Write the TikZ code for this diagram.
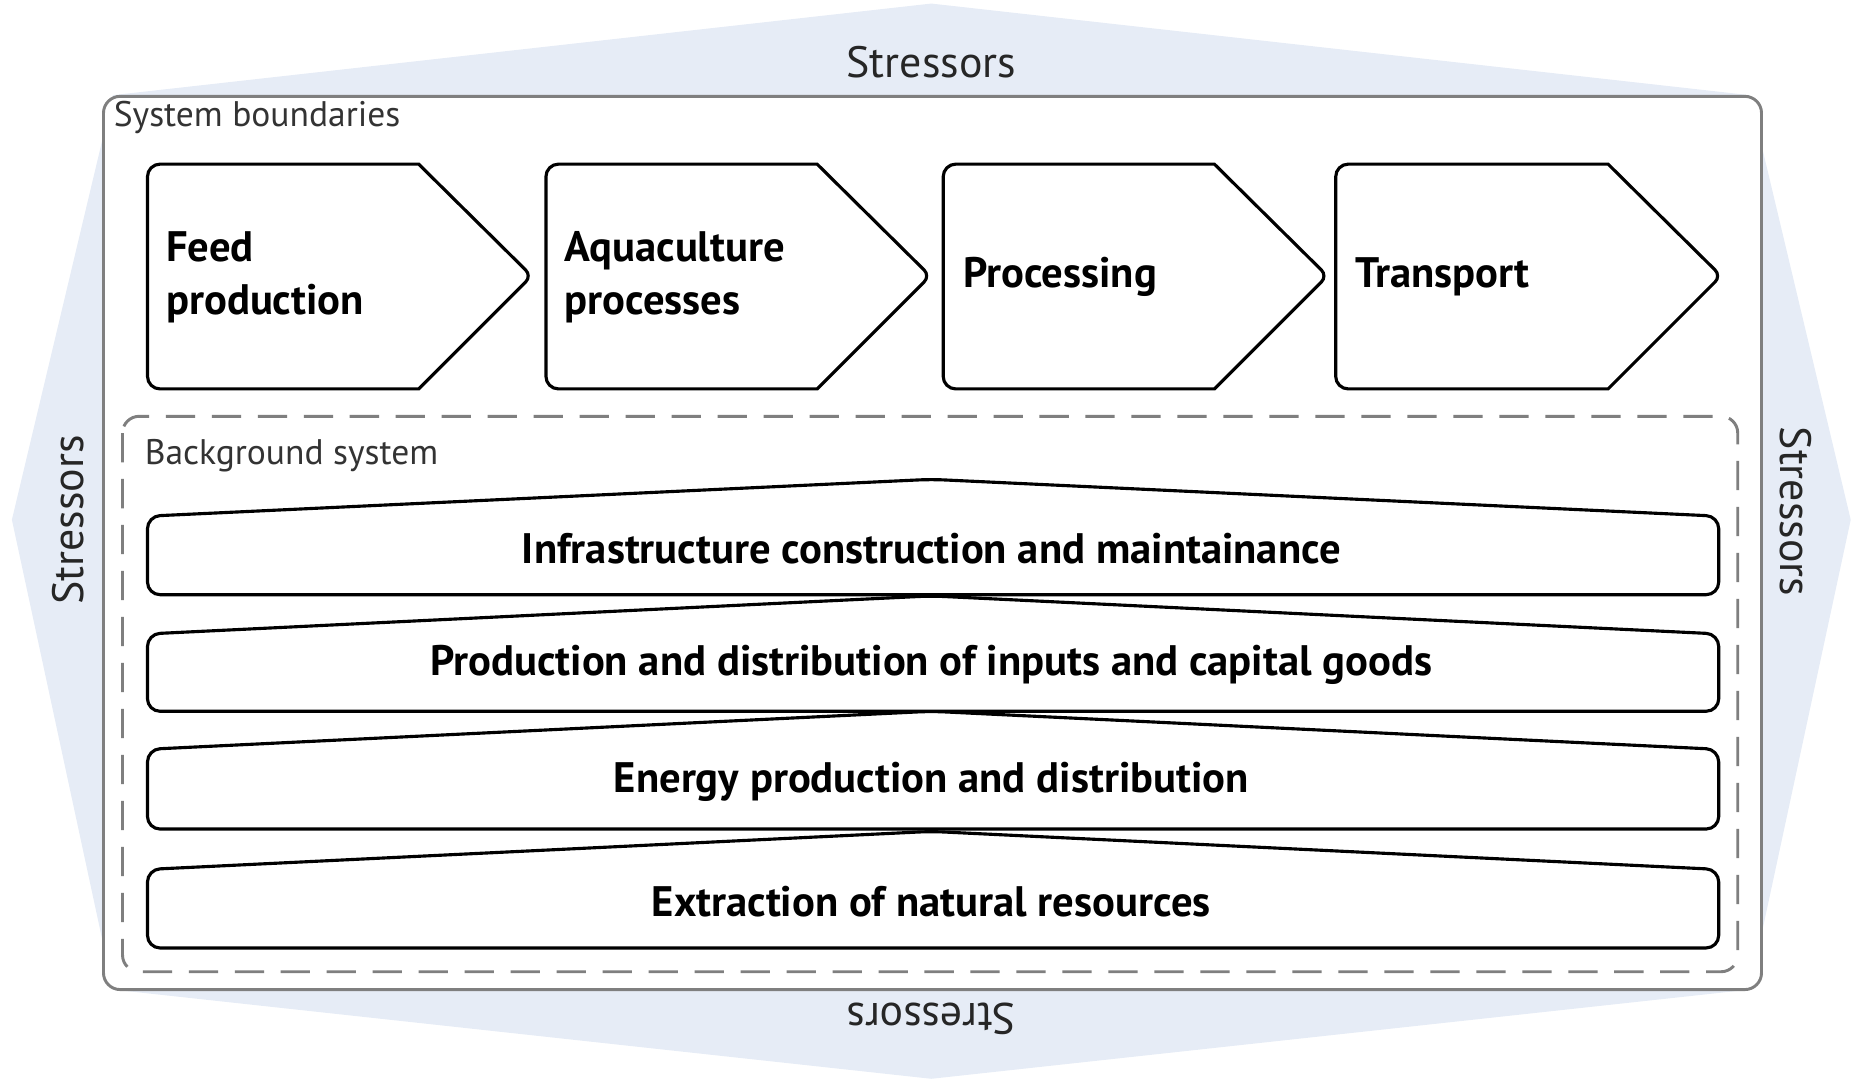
\documentclass[tikz,border=0pt]{standalone}
\usepackage{fontspec}
\setmainfont{PT Sans}
\definecolor{hexblue}{HTML}{E6ECF6}
\definecolor{boxgray}{HTML}{7F7F7F}
\tikzset{
  stage/.style={draw=black, line width=0.75pt},
  layer/.style={draw=black, line width=0.75pt, rounded corners=3pt},
  stagetext/.style={anchor=west, align=left, inner sep=0pt, font=\fontsize{10.2}{12.8}\selectfont\bfseries},
  layertext/.style={inner sep=0pt, font=\fontsize{10.2}{12}\selectfont\bfseries},
  stress/.style={inner sep=0pt, font=\fontsize{10.5}{12}\selectfont, text=black!85},
  boxlabel/.style={anchor=west, inner sep=0pt, font=\fontsize{8.5}{10}\selectfont, text=black!80},
}
\begin{document}
\begin{tikzpicture}[x=0.1mm, y=-0.1mm]
\useasboundingbox (0,0) rectangle (1568,909);
% stressors around the system
\fill[hexblue] (783,3) -- (1471,80) -- (1556,437) -- (1471,832) -- (783,907) -- (95,832) -- (10,437) -- (95,80) -- cycle;
\node[stress] (strN) at (783,52) {Stressors};
\node[stress, rotate=90] (strW) at (57,437) {Stressors};
\node[stress, rotate=-90] (strE) at (1510,430) {Stressors};
\node[stress, rotate=180] (strS) at (783,857) {Stressors};
% system boundaries
\draw[boxgray, line width=0.7pt, fill=white, rounded corners=4pt] (87,81) rectangle (1481,832);
\node[boxlabel] (sysb) at (95,99) {System boundaries};
% foreground stages
\draw[stage] (352,138) [rounded corners=2pt] -- (447,232) [sharp corners] -- (352,327) [rounded corners=3pt] -- (124,327) -- (124,138) [sharp corners] -- cycle;
\node[stagetext] (feed) at (139,233) {Feed\\production};
\draw[stage] (687,138) [rounded corners=2pt] -- (782,232) [sharp corners] -- (687,327) [rounded corners=3pt] -- (459,327) -- (459,138) [sharp corners] -- cycle;
\node[stagetext] (aqua) at (474,233) {Aquaculture\\processes};
\draw[stage] (1021,138) [rounded corners=2pt] -- (1116,232) [sharp corners] -- (1021,327) [rounded corners=3pt] -- (793,327) -- (793,138) [sharp corners] -- cycle;
\node[stagetext] (proc) at (809,233) {Processing};
\draw[stage] (1352,138) [rounded corners=2pt] -- (1447,232) [sharp corners] -- (1352,327) [rounded corners=3pt] -- (1123,327) -- (1123,138) [sharp corners] -- cycle;
\node[stagetext] (trans) at (1139,233) {Transport};
% background system
\draw[boxgray, line width=0.7pt, dash pattern=on 7pt off 4pt, rounded corners=4pt] (103,350) rectangle (1461,817);
\node[boxlabel] (bgsys) at (121,383) {Background system};
\draw[layer] (124,500) -- (124,434) -- (783,403) -- (1445,434) -- (1445,500) -- cycle;
\node[layertext] (infra) at (783,461) {Infrastructure construction and maintainance};
\draw[layer] (124,598) -- (124,533) -- (783,501) -- (1445,533) -- (1445,598) -- cycle;
\node[layertext] (inputs) at (783,559) {Production and distribution of inputs and capital goods};
\draw[layer] (124,697) -- (124,630) -- (783,598) -- (1445,630) -- (1445,697) -- cycle;
\node[layertext] (energy) at (783,657) {Energy production and distribution};
\draw[layer] (124,797) -- (124,731) -- (783,699) -- (1445,731) -- (1445,797) -- cycle;
\node[layertext] (extract) at (783,758) {Extraction of natural resources};
\end{tikzpicture}
\end{document}
